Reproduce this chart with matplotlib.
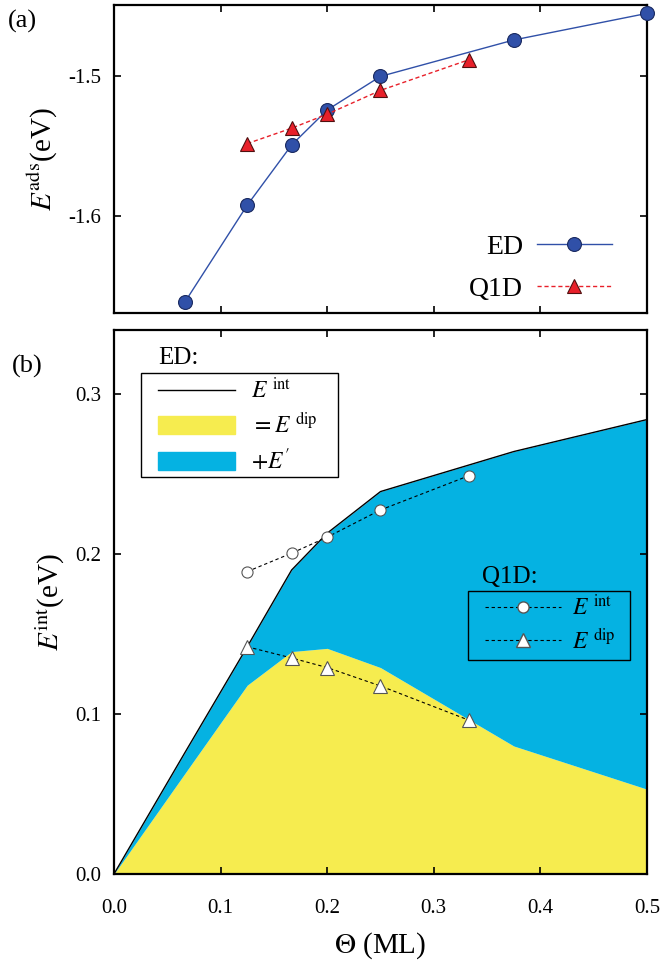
import numpy as np
import matplotlib
matplotlib.use("Agg")
import matplotlib.pyplot as plt
from matplotlib.lines import Line2D
from matplotlib.patches import Patch, Rectangle

plt.rcParams['font.family'] = ['Liberation Serif', 'DejaVu Serif']
plt.rcParams['mathtext.fontset'] = 'stix'
plt.rcParams['font.size'] = 15

# (a) adsorption energy
ed_theta = [1/15, 1/8, 1/6, 1/5, 1/4, 3/8, 1/2]
ed_eads = [-1.661, -1.592, -1.549, -1.524, -1.500, -1.474, -1.455]
q1d_theta = [1/8, 1/6, 1/5, 1/4, 1/3]
q1d_eads = [-1.548, -1.537, -1.527, -1.510, -1.488]

# (b) interaction energy
ed_theta_b = [0, 1/15, 1/8, 1/6, 1/5, 1/4, 3/8, 1/2]
ed_eint = [0, 0.076, 0.142, 0.190, 0.213, 0.239, 0.264, 0.284]
ed_edip = [0, 0.063, 0.118, 0.139, 0.141, 0.129, 0.080, 0.053]
q1d_eint = [0.189, 0.2005, 0.2105, 0.2275, 0.249]
q1d_edip = [0.142, 0.135, 0.129, 0.1175, 0.096]

yellow = '#f6ec4f'
cyan = '#05b2e2'
dblue = '#3050a8'
red = '#e8202a'

fig = plt.figure(figsize=(6.6, 9.6), dpi=100)
ax1 = fig.add_axes([0.1727, 0.674, 0.8076, 0.3208])
ax2 = fig.add_axes([0.1727, 0.0896, 0.8076, 0.5667])

for ax in (ax1, ax2):
    for s in ax.spines.values():
        s.set_linewidth(1.6)
    ax.tick_params(direction='in', top=True, right=True, length=5, width=1.2,
                   labelsize=15, pad=9)
    ax.set_xlim(0, 0.5)
    ax.set_xticks([0.0, 0.1, 0.2, 0.3, 0.4, 0.5])

# panel (a)
ax1.plot(ed_theta, ed_eads, '-', color=dblue, lw=1, marker='o', ms=10,
         mfc=dblue, mec='#1a2a60', mew=0.8, label='ED', clip_on=False, zorder=3)
ax1.plot(q1d_theta, q1d_eads, '--', color=red, lw=1, dashes=(3, 2), marker='^', ms=10,
         mfc=red, mec='#501010', mew=0.8, label='Q1D', zorder=4)
ax1.set_ylim(-1.669, -1.449)
ax1.set_yticks([-1.6, -1.5])
ax1.set_yticklabels(['-1.6', '-1.5'])
ax1.tick_params(labelbottom=False)
ax1.set_ylabel(r'$E^{\rm ads}$(eV)', fontsize=21, labelpad=6)
ax1.legend(loc='lower right', bbox_to_anchor=(0.955, 0.0), frameon=False,
           markerfirst=False, fontsize=20, handlelength=2.7, labelspacing=0.6,
           borderaxespad=0, handletextpad=0.5)
fig.text(0.012, 0.978, '(a)', fontsize=19, va='center')

# panel (b)
ax2.fill_between(ed_theta_b, 0, ed_edip, color=yellow, lw=0, zorder=1)
ax2.fill_between(ed_theta_b, ed_edip, ed_eint, color=cyan, lw=0, zorder=1)
ax2.plot(ed_theta_b, ed_eint, '-', color='black', lw=1, zorder=2)
ax2.plot(q1d_theta, q1d_eint, '--', color='black', lw=0.8, dashes=(3, 2.5), marker='o', ms=8,
         mfc='white', mec='#555555', mew=0.8, zorder=3)
ax2.plot(q1d_theta, q1d_edip, '--', color='black', lw=0.8, dashes=(3, 2.5), marker='^', ms=10,
         mfc='white', mec='#555555', mew=0.8, zorder=3)
ax2.set_ylim(0, 0.34)
ax2.set_yticks([0.0, 0.1, 0.2, 0.3])
ax2.set_yticklabels(['0.0', '0.1', '0.2', '0.3'])
ax2.set_xticklabels(['0.0', '0.1', '0.2', '0.3', '0.4', '0.5'])
ax2.tick_params(axis='x', pad=18)
ax2.set_xlabel(r'$\Theta$ (ML)', fontsize=21, labelpad=9)
ax2.set_ylabel(r'$E^{\rm int}$(eV)', fontsize=21, labelpad=6)
fig.text(0.018, 0.618, '(b)', fontsize=19, va='center')

# ED legend box
ax2.add_patch(Rectangle((0.0501, 0.7303), 0.3696, 0.1912, transform=ax2.transAxes,
                        facecolor='white', edgecolor='black', lw=1.0, zorder=4))
h_ed = [Line2D([], [], color='black', lw=1),
        Patch(color=yellow), Patch(color=cyan)]
leg1 = ax2.legend(h_ed, [r'$E^{\rm \ int}$', r'$=E^{\rm \ dip}$', r"$+E^{\prime}$"],
                  loc='upper left', bbox_to_anchor=(0.0826, 0.912), fontsize=17,
                  frameon=False, handlelength=3.25, handleheight=0.8,
                  labelspacing=0.4, borderpad=0, borderaxespad=0, handletextpad=0.7)
leg1.set_zorder(5)
ax2.add_artist(leg1)
ax2.text(0.083, 0.928, 'ED:', transform=ax2.transAxes, fontsize=18, va='bottom')

# Q1D legend box
ax2.add_patch(Rectangle((0.6636, 0.3934), 0.3044, 0.1268, transform=ax2.transAxes,
                        facecolor='none', edgecolor='black', lw=1.0, zorder=4))
h_q = [Line2D([], [], ls='--', dashes=(3, 2.5), color='black', lw=0.8, marker='o', ms=8,
              mfc='white', mec='#555555'),
       Line2D([], [], ls='--', dashes=(3, 2.5), color='black', lw=0.8, marker='^', ms=10,
              mfc='white', mec='#555555')]
leg2 = ax2.legend(h_q, [r'$E^{\rm \ int}$', r'$E^{\rm \ dip}$'],
                  loc='upper left', bbox_to_anchor=(0.6961, 0.513), fontsize=17,
                  frameon=False, handlelength=3.2, labelspacing=0.35, borderpad=0,
                  borderaxespad=0, handletextpad=0.5)
leg2.set_zorder(5)
ax2.text(0.69, 0.525, 'Q1D:', transform=ax2.transAxes, fontsize=18, va='bottom')

fig.savefig('out.png', dpi=100)
